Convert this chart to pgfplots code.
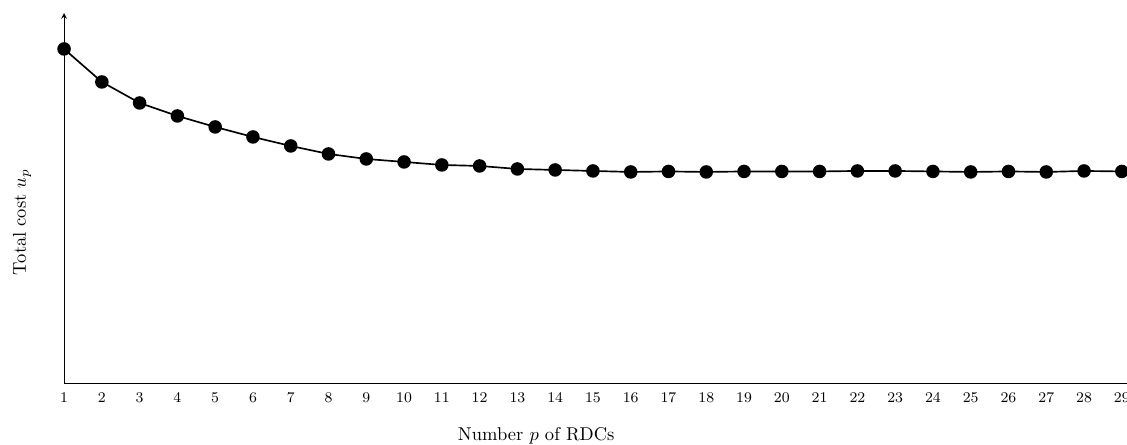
\documentclass[border=0pt]{standalone}
\usepackage{pgfplots}
\pgfplotsset{compat=1.18}
\begin{document}
\begin{tikzpicture}
\useasboundingbox (0,0) rectangle (608.6pt,240.3pt);
\clip (0,0) rectangle (608.6pt,240.3pt);
\begin{axis}[
  at={(34.6pt,33.5pt)}, anchor=south west,
  x=20.4pt, y=0.54pt,
  xmin=1, xmax=30, ymin=0, ymax=370,
  axis lines=left,
  clip=false,
  xtick={1,...,29},
  ytick=\empty,
  major tick length=0pt,
  tick label style={font=\footnotesize},
  xticklabel style={yshift=-2pt},
  xlabel={Number $p$ of RDCs},
  ylabel={Total cost $u_p$},
  xlabel style={at={([yshift=-28.6pt]axis description cs:0.431,0)}, anchor=center},
  ylabel style={at={([xshift=-22.7pt]axis description cs:0,0.435)}, anchor=center},
]
\addplot[black, line width=0.9pt, mark=*, mark size=3.2pt] coordinates {
(1,334) (2,301) (3,280) (4,267) (5,256) (6,246) (7,237) (8,229) (9,224) (10,221)
(11,218) (12,217) (13,214) (14,213) (15,212) (16,211) (17,211.5) (18,211) (19,211.5) (20,211.5)
(21,211.5) (22,212) (23,212) (24,211.5) (25,211) (26,211.5) (27,211) (28,212) (29,211.5)
};
\end{axis}
\end{tikzpicture}
\end{document}
